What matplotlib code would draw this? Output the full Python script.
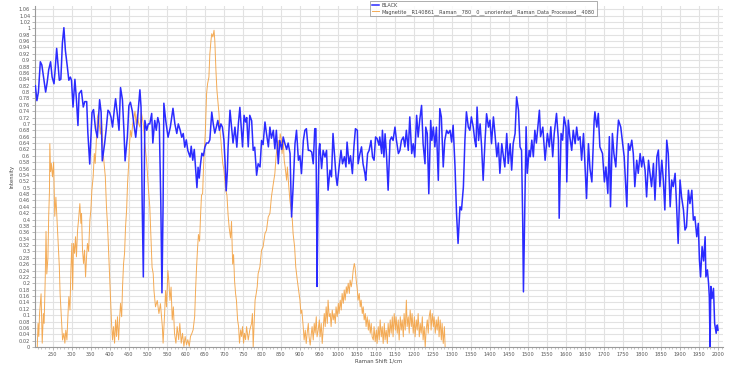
import numpy as np
import matplotlib
matplotlib.use('Agg')
import matplotlib.pyplot as plt
from matplotlib.ticker import MultipleLocator, FuncFormatter

# BLACK - serie azul (x, y)
black_x = [204, 208, 212, 217, 221, 231, 235, 239, 244, 248, 253, 256, 260, 264, 267, 271, 275, 279, 283, 288,
           292, 296, 299, 303, 308, 312, 316, 319, 325, 330, 334, 339, 342, 347, 353, 357, 362, 367, 373, 377,
           380, 386, 390, 395, 399, 403, 407, 411, 415, 419, 424, 428, 433, 437, 440, 446, 450, 454, 459, 463,
           468, 473, 479, 482, 485, 488, 490, 492, 497, 501, 505, 510, 513, 518, 522, 526, 530, 534, 537, 540,
           542, 547, 553, 559, 566, 571, 576, 580, 585, 589, 593, 597, 601, 605, 611, 614, 618, 622, 626, 629,
           632, 635, 638, 642, 646, 650, 654, 659, 663, 668, 672, 676, 680, 684, 688, 692, 696, 700, 703, 706,
           709, 711, 716, 721, 724, 729, 734, 738, 742, 746, 749, 753, 757, 760, 764, 768, 773, 777, 781, 786,
           790, 795, 799, 803, 808, 812, 817, 821, 825, 830, 834, 838, 843, 847, 852, 856, 860, 865, 869, 874,
           876, 878, 882, 887, 891, 896, 900, 904, 909, 913, 917, 922, 926, 931, 935, 939, 942, 944, 945, 947,
           950, 952, 957, 961, 966, 970, 974, 979, 983, 987, 992, 995, 998, 1003, 1008, 1012, 1017, 1021, 1024, 1029,
           1033, 1038, 1042, 1046, 1051, 1053, 1058, 1062, 1066, 1071, 1073, 1078, 1082, 1087, 1091, 1095, 1099, 1103, 1108, 1110,
           1115, 1117, 1121, 1124, 1128, 1132, 1137, 1141, 1145, 1150, 1154, 1159, 1163, 1167, 1172, 1176, 1180, 1185, 1189, 1194,
           1198, 1202, 1207, 1211, 1215, 1220, 1224, 1229, 1231, 1235, 1239, 1244, 1247, 1251, 1255, 1259, 1264, 1268, 1272, 1277,
           1281, 1286, 1290, 1295, 1299, 1303, 1308, 1312, 1316, 1321, 1325, 1330, 1334, 1338, 1343, 1347, 1351, 1356, 1360, 1363,
           1366, 1370, 1374, 1378, 1382, 1387, 1391, 1396, 1400, 1404, 1409, 1413, 1418, 1422, 1426, 1431, 1435, 1439, 1444, 1448,
           1453, 1457, 1461, 1466, 1470, 1475, 1479, 1483, 1486, 1488, 1491, 1495, 1498, 1503, 1506, 1510, 1514, 1518, 1522, 1530,
           1533, 1539, 1545, 1551, 1556, 1560, 1565, 1569, 1575, 1580, 1582, 1587, 1591, 1595, 1600, 1602, 1606, 1610, 1615, 1619,
           1624, 1628, 1632, 1637, 1641, 1646, 1654, 1659, 1663, 1668, 1674, 1676, 1681, 1685, 1689, 1696, 1701, 1705, 1710, 1714,
           1717, 1722, 1726, 1731, 1735, 1738, 1744, 1748, 1753, 1760, 1764, 1768, 1773, 1777, 1781, 1786, 1790, 1795, 1799, 1803,
           1808, 1812, 1817, 1821, 1825, 1830, 1834, 1839, 1843, 1847, 1852, 1856, 1860, 1865, 1869, 1874, 1878, 1882, 1887, 1891,
           1895, 1900, 1904, 1909, 1913, 1917, 1922, 1926, 1931, 1935, 1939, 1944, 1948, 1951, 1954, 1958, 1962, 1966, 1968, 1972,
           1975, 1977, 1979, 1981, 1984, 1988, 1991, 1995, 1998, 2000]
black_y = [0.82, 0.773, 0.80, 0.895, 0.885, 0.80, 0.83, 0.87, 0.895, 0.847, 0.826, 0.87, 0.937, 0.88, 0.837, 0.84, 0.953, 1.002, 0.93, 0.88,
           0.837, 0.847, 0.837, 0.753, 0.84, 0.776, 0.695, 0.795, 0.805, 0.753, 0.77, 0.77, 0.673, 0.574, 0.736, 0.745, 0.686, 0.657, 0.776, 0.736,
           0.584, 0.637, 0.68, 0.743, 0.737, 0.721, 0.69, 0.737, 0.779, 0.737, 0.68, 0.814, 0.776, 0.678, 0.584, 0.66, 0.757, 0.768, 0.74, 0.70,
           0.658, 0.72, 0.807, 0.752, 0.45, 0.22, 0.45, 0.711, 0.68, 0.70, 0.70, 0.733, 0.64, 0.711, 0.68, 0.72, 0.70, 0.45, 0.17, 0.45,
           0.765, 0.71, 0.658, 0.69, 0.749, 0.70, 0.67, 0.70, 0.68, 0.658, 0.67, 0.627, 0.65, 0.617, 0.596, 0.63, 0.586, 0.62, 0.55, 0.50,
           0.564, 0.53, 0.57, 0.608, 0.60, 0.627, 0.64, 0.64, 0.65, 0.737, 0.70, 0.671, 0.69, 0.711, 0.68, 0.70, 0.69, 0.65, 0.58, 0.49,
           0.55, 0.627, 0.743, 0.68, 0.64, 0.69, 0.627, 0.70, 0.752, 0.68, 0.628, 0.727, 0.706, 0.72, 0.628, 0.727, 0.71, 0.617, 0.627, 0.539,
           0.575, 0.565, 0.648, 0.635, 0.706, 0.67, 0.628, 0.69, 0.655, 0.68, 0.622, 0.68, 0.575, 0.648, 0.62, 0.659, 0.64, 0.62, 0.64, 0.607,
           0.50, 0.408, 0.50, 0.638, 0.68, 0.586, 0.60, 0.544, 0.648, 0.68, 0.685, 0.617, 0.617, 0.612, 0.575, 0.685, 0.685, 0.40, 0.19, 0.40,
           0.617, 0.638, 0.56, 0.617, 0.596, 0.617, 0.492, 0.555, 0.534, 0.67, 0.586, 0.534, 0.507, 0.565, 0.617, 0.575, 0.597, 0.565, 0.643, 0.575,
           0.60, 0.544, 0.628, 0.685, 0.68, 0.575, 0.607, 0.628, 0.575, 0.544, 0.523, 0.607, 0.617, 0.648, 0.596, 0.586, 0.659, 0.654, 0.633, 0.659,
           0.607, 0.68, 0.596, 0.669, 0.596, 0.492, 0.648, 0.659, 0.648, 0.69, 0.648, 0.607, 0.617, 0.648, 0.659, 0.628, 0.68, 0.617, 0.722, 0.607,
           0.638, 0.596, 0.727, 0.659, 0.711, 0.758, 0.638, 0.575, 0.69, 0.67, 0.481, 0.711, 0.648, 0.69, 0.628, 0.69, 0.523, 0.748, 0.722, 0.565,
           0.648, 0.68, 0.67, 0.68, 0.643, 0.696, 0.565, 0.418, 0.325, 0.44, 0.43, 0.502, 0.648, 0.738, 0.69, 0.68, 0.722, 0.69, 0.648, 0.628,
           0.753, 0.648, 0.70, 0.628, 0.523, 0.648, 0.732, 0.69, 0.712, 0.638, 0.722, 0.67, 0.597, 0.64, 0.545, 0.638, 0.60, 0.565, 0.67, 0.576,
           0.638, 0.555, 0.638, 0.67, 0.785, 0.743, 0.628, 0.617, 0.40, 0.173, 0.40, 0.691, 0.545, 0.617, 0.597, 0.649, 0.597, 0.68, 0.64, 0.743,
           0.66, 0.69, 0.586, 0.67, 0.628, 0.691, 0.597, 0.67, 0.733, 0.649, 0.404, 0.67, 0.649, 0.722, 0.69, 0.518, 0.712, 0.66, 0.617, 0.68,
           0.638, 0.69, 0.649, 0.66, 0.586, 0.67, 0.466, 0.638, 0.56, 0.518, 0.71, 0.738, 0.69, 0.733, 0.628, 0.607, 0.518, 0.565, 0.482, 0.66,
           0.44, 0.67, 0.607, 0.565, 0.66, 0.712, 0.69, 0.649, 0.597, 0.44, 0.638, 0.617, 0.649, 0.607, 0.503, 0.586, 0.545, 0.607, 0.565, 0.597,
           0.555, 0.471, 0.586, 0.545, 0.503, 0.576, 0.461, 0.597, 0.618, 0.503, 0.586, 0.524, 0.43, 0.649, 0.607, 0.44, 0.524, 0.503, 0.545, 0.44,
           0.325, 0.524, 0.471, 0.43, 0.367, 0.377, 0.492, 0.45, 0.492, 0.398, 0.409, 0.346, 0.388, 0.273, 0.22, 0.315, 0.27, 0.346, 0.22, 0.242,
           0.20, 0.158, 0.0, 0.19, 0.152, 0.184, 0.074, 0.043, 0.069, 0.053]

# Magnetite (RRUFF) - serie laranja (x, y)
mag_x = [209, 211, 213, 215, 219, 222, 225, 227, 230, 232, 234, 237, 239, 241, 242, 244, 246, 249, 252, 255,
         258, 261, 264, 267, 269, 273, 275.5, 279, 281.6, 284, 287, 289.5, 292, 295, 297.4, 300, 302, 304.4, 307, 309.6,
         312, 315, 317.5, 321, 323.7, 325.4, 328, 330.7, 333.3, 336, 338.6, 341, 344, 347.4, 350, 352.6, 356, 359, 361.4, 365,
         367.5, 370, 372, 375, 378, 381, 384, 388, 391, 394, 396.5, 399.1, 401.7, 404.4, 407, 409.6, 412.3, 415, 417.5, 420,
         423, 425.4, 428, 431, 433.3, 436, 438.6, 441.2, 444, 446.5, 449, 451.7, 454.4, 457, 460, 462.2, 466, 469, 472, 476,
         479, 483, 488, 492, 496.5, 501, 505, 508, 511, 514, 516, 520, 524.6, 529, 533, 538, 540, 544, 546.5, 549,
         552.6, 555, 558, 561, 564, 567, 570, 573.7, 577, 581, 584, 587.7, 591, 594.7, 598, 601.7, 605, 608.8, 612, 615.8,
         619, 623, 625.4, 628, 630.7, 633, 636, 638.6, 641, 644, 647, 651, 654.4, 657, 660.5, 663, 666, 668, 671, 674,
         676, 679, 681.6, 684, 687, 689.5, 692, 694.7, 697, 700, 702.6, 705, 708, 711, 714, 717.5, 720, 723, 725.4, 728,
         730.7, 733, 736, 738.6, 741, 744, 746.5, 749, 751.7, 754, 757, 759.6, 764, 768, 772.7, 775, 777, 780, 782, 785,
         787.6, 790, 794.6, 799, 803, 808, 812, 816.5, 821, 825, 830, 834, 837, 840, 843, 845.5, 848, 851, 853, 856,
         858.6, 861, 865, 867, 870, 873.6, 877, 880, 882, 886, 889, 893, 896, 900, 902.5, 905, 908.6, 911, 914, 916.5,
         919, 922, 924, 927, 930, 932, 935, 937.6, 940, 943, 945, 948, 951, 953, 956, 958.6, 961, 964, 966.5, 969,
         972, 974, 977, 979.7, 982, 985, 987.6, 990, 993, 995, 998, 1001, 1003, 1006, 1008.6, 1011, 1014, 1016.5, 1019, 1022,
         1024, 1027, 1030, 1032, 1035, 1037.6, 1040, 1043, 1045, 1048, 1051, 1053, 1056, 1058.6, 1061, 1064, 1066.5, 1069, 1072, 1074,
         1077, 1080, 1082, 1085, 1087.5, 1090, 1093, 1095, 1098, 1101, 1103, 1106, 1108.6, 1111, 1114, 1116.5, 1119, 1122, 1124, 1127,
         1130, 1132, 1135, 1137.5, 1140, 1143, 1145, 1148, 1151, 1153, 1156, 1158.6, 1161, 1164, 1166.5, 1169, 1172, 1174, 1177, 1180,
         1182, 1185, 1187.5, 1190, 1193, 1195, 1198, 1201, 1203, 1206, 1208.6, 1211, 1214, 1216.5, 1219, 1222, 1224, 1227, 1229.6, 1232,
         1235, 1237.5, 1240, 1243, 1245, 1248, 1251, 1253, 1256, 1258.6, 1261, 1264, 1266, 1269, 1272, 1274, 1277, 1280, 1282]
mag_y = [0.0, 0.074, 0.033, 0.105, 0.167, 0.012, 0.105, 0.074, 0.219, 0.363, 0.229, 0.28, 0.41, 0.487, 0.638, 0.55, 0.576, 0.534, 0.58, 0.41,
         0.47, 0.40, 0.325, 0.252, 0.168, 0.074, 0.022, 0.043, 0.012, 0.053, 0.022, 0.095, 0.158, 0.116, 0.241, 0.325, 0.179, 0.325, 0.294, 0.346,
         0.283, 0.367, 0.398, 0.45, 0.388, 0.419, 0.304, 0.262, 0.304, 0.22, 0.283, 0.325, 0.30, 0.398, 0.43, 0.492, 0.534, 0.607, 0.576, 0.659,
         0.722, 0.735, 0.70, 0.668, 0.72, 0.638, 0.586, 0.534, 0.44, 0.377, 0.304, 0.22, 0.158, 0.074, 0.022, 0.064, 0.012, 0.085, 0.033, 0.095,
         0.022, 0.085, 0.137, 0.095, 0.189, 0.262, 0.294, 0.377, 0.43, 0.513, 0.565, 0.638, 0.68, 0.659, 0.70, 0.712, 0.74, 0.70, 0.73, 0.70,
         0.69, 0.735, 0.70, 0.638, 0.586, 0.503, 0.44, 0.346, 0.25, 0.23, 0.177, 0.126, 0.146, 0.105, 0.136, 0.064, 0.012, 0.105, 0.177, 0.126,
         0.24, 0.208, 0.146, 0.188, 0.085, 0.126, 0.043, 0.012, 0.064, 0.023, 0.074, 0.012, 0.043, 0.002, 0.033, 0.007, 0.023, 0.002, 0.033, 0.043,
         0.054, 0.095, 0.177, 0.25, 0.311, 0.353, 0.332, 0.414, 0.476, 0.482, 0.586, 0.67, 0.795, 0.826, 0.847, 0.92, 0.962, 0.983, 0.973, 0.994,
         0.962, 0.868, 0.806, 0.774, 0.732, 0.68, 0.649, 0.607, 0.576, 0.555, 0.524, 0.492, 0.476, 0.414, 0.373, 0.342, 0.394, 0.26, 0.29, 0.208,
         0.167, 0.146, 0.085, 0.064, 0.012, 0.054, 0.033, 0.064, 0.012, 0.043, 0.023, 0.064, 0.022, 0.053, 0.074, 0.105, 0.0, 0.085, 0.147, 0.168,
         0.189, 0.23, 0.251, 0.304, 0.314, 0.356, 0.366, 0.408, 0.419, 0.471, 0.513, 0.544, 0.596, 0.628, 0.648, 0.617, 0.669, 0.654, 0.607, 0.648,
         0.586, 0.565, 0.523, 0.565, 0.513, 0.46, 0.429, 0.398, 0.356, 0.314, 0.251, 0.21, 0.184, 0.147, 0.105, 0.116, 0.064, 0.022, 0.053, 0.011,
         0.043, 0.074, 0.032, 0.006, 0.043, 0.064, 0.022, 0.074, 0.043, 0.095, 0.032, 0.053, 0.085, 0.032, 0.074, 0.011, 0.053, 0.105, 0.064, 0.126,
         0.074, 0.147, 0.095, 0.105, 0.064, 0.116, 0.085, 0.105, 0.074, 0.126, 0.095, 0.137, 0.105, 0.147, 0.116, 0.168, 0.137, 0.179, 0.147, 0.189,
         0.168, 0.20, 0.168, 0.21, 0.189, 0.21, 0.24, 0.262, 0.25, 0.21, 0.179, 0.147, 0.168, 0.126, 0.147, 0.105, 0.126, 0.085, 0.105, 0.064,
         0.095, 0.053, 0.085, 0.043, 0.074, 0.032, 0.022, 0.064, 0.017, 0.053, 0.011, 0.064, 0.022, 0.085, 0.032, 0.064, 0.011, 0.074, 0.022, 0.053,
         0.011, 0.074, 0.032, 0.085, 0.043, 0.095, 0.032, 0.105, 0.053, 0.095, 0.043, 0.085, 0.022, 0.095, 0.053, 0.085, 0.032, 0.105, 0.053, 0.147,
         0.064, 0.095, 0.043, 0.116, 0.064, 0.105, 0.043, 0.095, 0.032, 0.085, 0.053, 0.105, 0.032, 0.074, 0.043, 0.095, 0.022, 0.064, 0.0, 0.053,
         0.085, 0.043, 0.095, 0.116, 0.053, 0.105, 0.064, 0.095, 0.043, 0.085, 0.053, 0.095, 0.032, 0.085, 0.022, 0.074, 0.011, 0.064, 0.0]

legend_labels = ['BLACK', 'Magnetite__R140861__Raman__780__0__unoriented__Raman_Data_Processed__4080']

fig = plt.figure(figsize=(7.38, 3.69), dpi=100)
ax = fig.add_axes([35 / 738, 1 - 347 / 369, (723 - 35) / 738, (347 - 6) / 369])

ax.plot(black_x, black_y, color='#2b2bff', lw=1.1, label=legend_labels[0], zorder=3)
ax.plot(mag_x, mag_y, color='#f3a243', lw=0.7, alpha=0.9, label=legend_labels[1], zorder=2)

ax.set_xlim(203, 2013)
ax.set_ylim(0, 1.07)
ax.xaxis.set_major_locator(MultipleLocator(50))
ax.xaxis.set_minor_locator(MultipleLocator(10))
ax.yaxis.set_major_locator(MultipleLocator(0.02))
ax.yaxis.set_major_formatter(FuncFormatter(lambda v, p: '%g' % round(v, 2)))
ax.set_xticks([t for t in range(250, 2001, 50)])

ax.grid(True, which='major', color='#e2e2e2', lw=0.8)
ax.set_axisbelow(True)
for s in ['top', 'right']:
    ax.spines[s].set_visible(False)
for s in ['left', 'bottom']:
    ax.spines[s].set_color('#9a9a9a')
    ax.spines[s].set_linewidth(0.8)
ax.tick_params(axis='both', which='major', labelsize=3.6, colors='#9a9a9a', labelcolor='#555555',
               length=2, width=0.5, pad=1.5)
ax.tick_params(axis='x', which='minor', length=1.2, width=0.4, colors='#9a9a9a')

ax.set_xlabel('Raman Shift 1/cm', fontsize=3.8, color='#444444', labelpad=1)
ax.set_ylabel('Intensity', fontsize=3.8, color='#444444', labelpad=3)

leg = ax.legend(loc='upper left', bbox_to_anchor=(370 / 738, 1 - 1 / 369), bbox_transform=fig.transFigure,
                fontsize=3.6, frameon=True, fancybox=False, handlelength=1.5, handletextpad=0.5,
                borderpad=0.35, labelspacing=0.25, borderaxespad=0)
leg.get_frame().set_edgecolor('#888888')
leg.get_frame().set_linewidth(0.6)
for t in leg.get_texts():
    t.set_color('#444444')

plt.savefig('out.png', dpi=100)
